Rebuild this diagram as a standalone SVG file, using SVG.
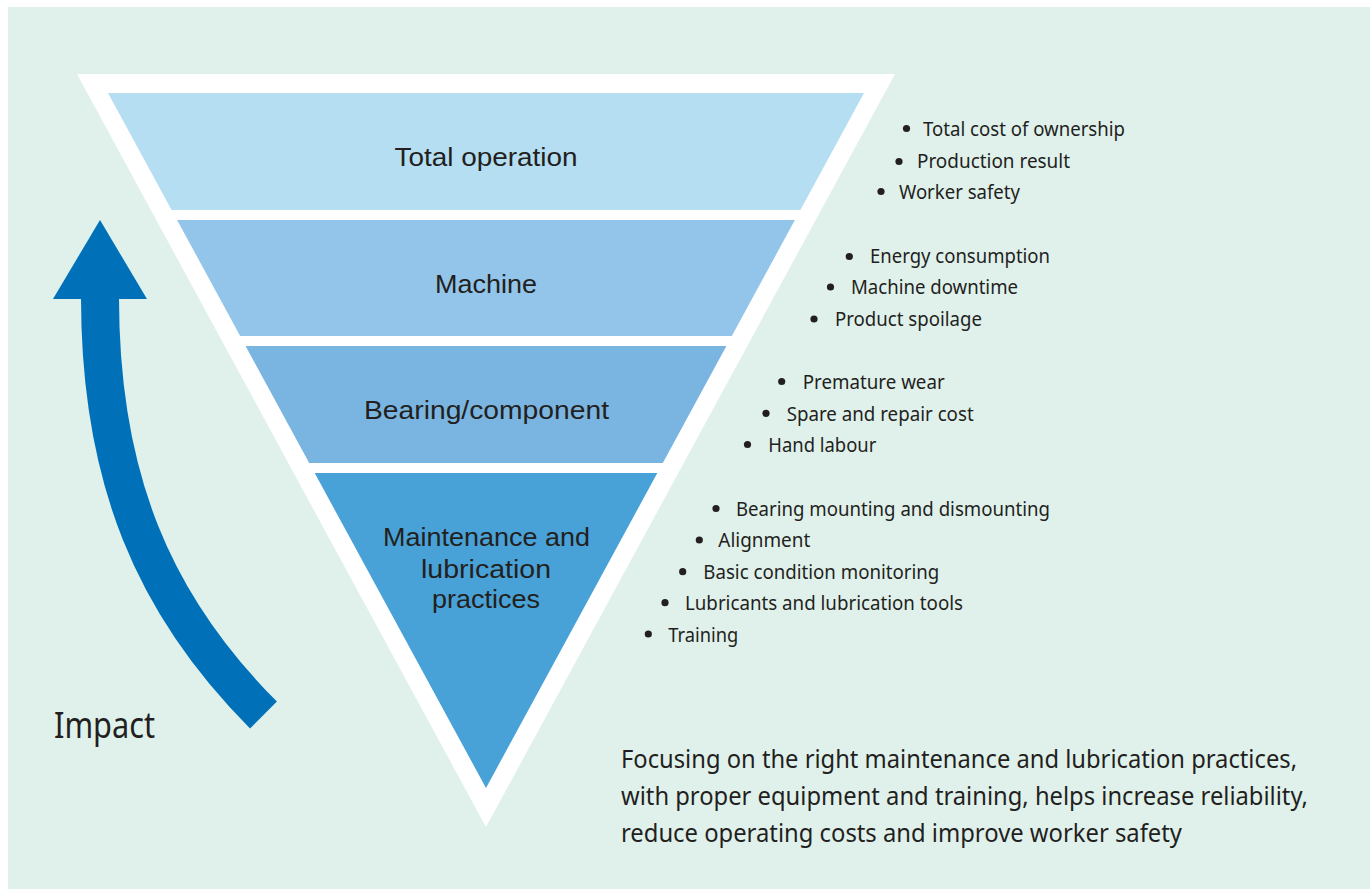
<svg xmlns="http://www.w3.org/2000/svg" width="1370" height="889" viewBox="0 0 1370 889">
<style>
.lbl{font-family:"Liberation Sans","Noto Sans",sans-serif;font-size:26px;fill:#231f20;text-anchor:middle}
.bl{font-family:"Noto Sans","Open Sans",sans-serif;font-size:20.5px;fill:#231f20}
.par{font-family:"Noto Sans","Open Sans",sans-serif;font-size:25.5px;fill:#231f20}
.dot{fill:#231f20}
</style>
<rect x="8" y="7" width="1362" height="882" fill="#e0f1ec"/>
<g id="pyramid-frame">
<polygon points="77,74 895,74 486,827" fill="#ffffff"/>
</g>
<g id="node-total-operation">
<polygon points="108,93 864,93 800.4,210 171.6,210" fill="#b5def2"/>
<text class="lbl" x="486" y="166" textLength="183" lengthAdjust="spacingAndGlyphs">Total operation</text>
</g>
<g id="node-machine">
<polygon points="177.1,220 794.9,220 731.8,336 240.2,336" fill="#92c5e9"/>
<text class="lbl" x="486" y="293" textLength="102" lengthAdjust="spacingAndGlyphs">Machine</text>
</g>
<g id="node-bearing">
<polygon points="245.6,346 726.4,346 662.8,463 309.2,463" fill="#7ab5e2"/>
<text class="lbl" x="486.5" y="419" textLength="245" lengthAdjust="spacingAndGlyphs">Bearing/component</text>
</g>
<g id="node-maintenance">
<polygon points="314.7,473 657.3,473 486,788" fill="#48a2d7"/>
<text class="lbl" x="486.5" y="546" textLength="207" lengthAdjust="spacingAndGlyphs">Maintenance and</text>
<text class="lbl" x="486" y="577.5" textLength="130" lengthAdjust="spacingAndGlyphs">lubrication</text>
<text class="lbl" x="486" y="608" textLength="108" lengthAdjust="spacingAndGlyphs">practices</text>
</g>
<g id="list-total-operation">
<circle class="dot" cx="906.5" cy="128.5" r="3.6"/>
<text class="bl" x="923" y="136" textLength="202" lengthAdjust="spacingAndGlyphs">Total cost of ownership</text>
<circle class="dot" cx="899" cy="161.5" r="3.6"/>
<text class="bl" x="917" y="167.5" textLength="153" lengthAdjust="spacingAndGlyphs">Production result</text>
<circle class="dot" cx="881" cy="191.5" r="3.6"/>
<text class="bl" x="899" y="199" textLength="121" lengthAdjust="spacingAndGlyphs">Worker safety</text>
</g>
<g id="list-machine">
<circle class="dot" cx="849.3" cy="256.5" r="3.6"/>
<text class="bl" x="870" y="263" textLength="180" lengthAdjust="spacingAndGlyphs">Energy consumption</text>
<circle class="dot" cx="830.5" cy="287" r="3.6"/>
<text class="bl" x="851" y="294" textLength="167" lengthAdjust="spacingAndGlyphs">Machine downtime</text>
<circle class="dot" cx="814" cy="319" r="3.6"/>
<text class="bl" x="835" y="326" textLength="147" lengthAdjust="spacingAndGlyphs">Product spoilage</text>
</g>
<g id="list-bearing">
<circle class="dot" cx="781.7" cy="381.5" r="3.6"/>
<text class="bl" x="802.7" y="389" textLength="142" lengthAdjust="spacingAndGlyphs">Premature wear</text>
<circle class="dot" cx="766" cy="413.3" r="3.6"/>
<text class="bl" x="786.7" y="421" textLength="187" lengthAdjust="spacingAndGlyphs">Spare and repair cost</text>
<circle class="dot" cx="747.5" cy="444.5" r="3.6"/>
<text class="bl" x="768.3" y="452" textLength="108" lengthAdjust="spacingAndGlyphs">Hand labour</text>
</g>
<g id="list-maintenance">
<circle class="dot" cx="716" cy="508.5" r="3.6"/>
<text class="bl" x="736" y="516" textLength="314" lengthAdjust="spacingAndGlyphs">Bearing mounting and dismounting</text>
<circle class="dot" cx="699.3" cy="540" r="3.6"/>
<text class="bl" x="718.3" y="547.3" textLength="92" lengthAdjust="spacingAndGlyphs">Alignment</text>
<circle class="dot" cx="682.7" cy="571.7" r="3.6"/>
<text class="bl" x="703.3" y="579.3" textLength="236" lengthAdjust="spacingAndGlyphs">Basic condition monitoring</text>
<circle class="dot" cx="665" cy="602.7" r="3.6"/>
<text class="bl" x="685" y="610" textLength="278" lengthAdjust="spacingAndGlyphs">Lubricants and lubrication tools</text>
<circle class="dot" cx="648.3" cy="634" r="3.6"/>
<text class="bl" x="668.3" y="641.7" textLength="70" lengthAdjust="spacingAndGlyphs">Training</text>
</g>
<g id="connectors">
<path d="M100 298 C100 478 153.5 605 263.5 715" fill="none" stroke="#0071b9" stroke-width="38" stroke-linecap="butt"/>
<polygon points="100,220 147,299 53,299" fill="#0071b9"/>
</g>
<g id="impact-label">
<text x="54" y="737.5" font-family="Noto Sans, Open Sans, sans-serif" font-size="37" fill="#231f20" textLength="101" lengthAdjust="spacingAndGlyphs">Impact</text>
</g>
<g id="summary-text">
<text class="par" x="621" y="768" textLength="676" lengthAdjust="spacingAndGlyphs">Focusing on the right maintenance and lubrication practices,</text>
<text class="par" x="621" y="805" textLength="687" lengthAdjust="spacingAndGlyphs">with proper equipment and training, helps increase reliability,</text>
<text class="par" x="621" y="841.5" textLength="561" lengthAdjust="spacingAndGlyphs">reduce operating costs and improve worker safety</text>
</g>
</svg>
